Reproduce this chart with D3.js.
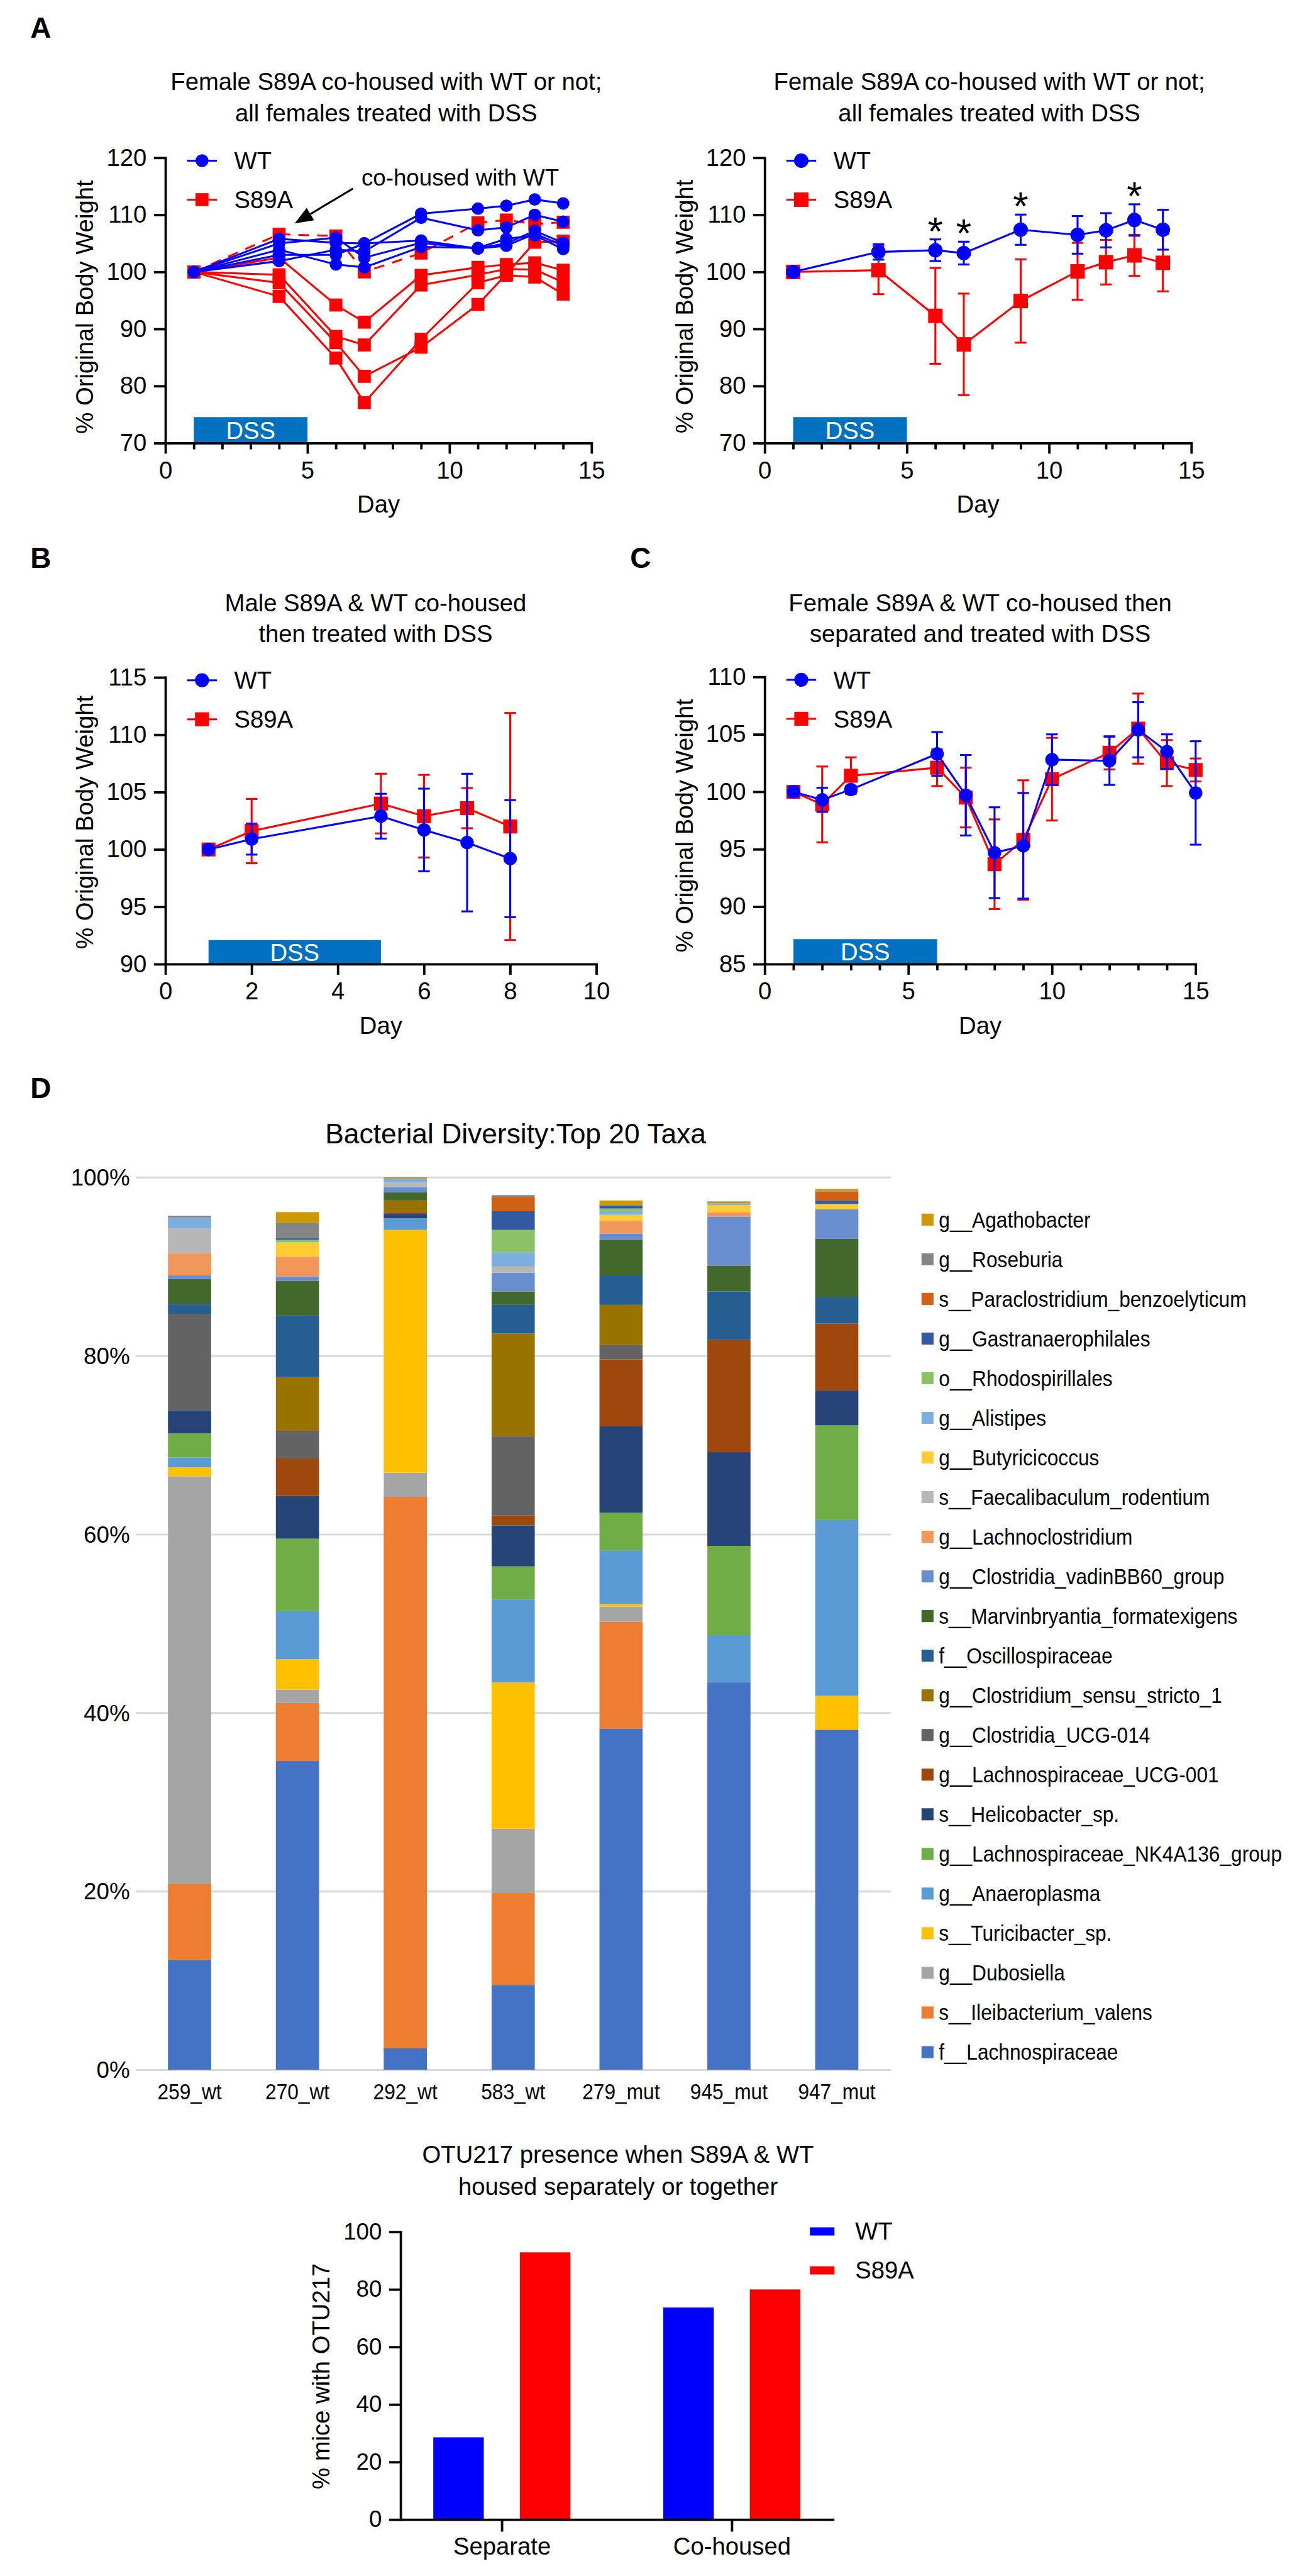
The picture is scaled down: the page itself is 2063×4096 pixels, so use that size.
<!DOCTYPE html>
<html>
<head>
<meta charset="utf-8">
<script src="https://cdn.jsdelivr.net/npm/d3@7"></script>
<style>
  body { margin: 0; background: #fff; }
</style>
</head>
<body>
<svg id="fig"></svg>
<script>
// ---------- data ----------
// panel A, individual mice (days of weighing)
const daysA = [1, 4, 6, 7, 9, 11, 12, 13, 14];
const wtMiceA = [
  [100, 103.0, 103.0, 105.0, 110.2, 111.1, 111.6, 112.7, 112.0],
  [100, 101.9, 103.9, 103.6, 109.5, 107.3, 107.8, 110.0, 108.8],
  [100, 105.8, 105.1, 105.0, 105.5, 104.1, 105.0, 107.2, 105.1],
  [100, 105.0, 106.0, 102.5, 105.1, 104.1, 104.6, 106.7, 104.6],
  [100, 103.9, 101.3, 100.8, 104.4, 104.2, 105.8, 106.4, 104.0]
];
const s89aMiceA = [
  [100, 102.5, 94.2, 91.2, 99.4, 100.8, 101.3, 101.6, 100.3],
  [100, 99.5, 88.7, 87.2, 97.7, 99.5, 100.5, 100.4, 98.2],
  [100, 98.1, 87.6, 81.7, 86.8, 94.3, 99.6, 105.2, 105.4],
  [100, 95.7, 84.9, 77.1, 88.2, 98.1, 99.4, 99.1, 96.1]
];
const s89aCoHousedA = [100, 106.6, 106.3, 100.0, 103.3, 108.6, 109.1, 108.4, 108.7];

// panel A, mean +/- SD
const wtMeanA = [100, 103.5, 103.8, 103.3, 107.4, 106.5, 107.3, 109.1, 107.4];
const wtErrA = [0.4, 1.35, 1.9, 2.0, 2.65, 3.3, 3.0, 2.75, 3.5];
const s89aMeanA = [100, 100.3, 92.3, 87.3, 94.9, 100.1, 101.7, 102.9, 101.6];
const s89aErrA = [0.4, 4.2, 8.4, 8.9, 7.3, 5.0, 3.9, 3.6, 5.0];
const starDaysA = [6, 7, 9, 13];

// panel B
const daysB = [1, 2, 5, 6, 7, 8];
const wtMeanB = [100, 100.9, 102.9, 101.7, 100.6, 99.2];
const wtErrB = [0.3, 1.35, 1.95, 3.6, 6.0, 5.1];
const s89aMeanB = [100, 101.6, 104.0, 102.9, 103.6, 102.0];
const s89aErrB = [0.3, 2.8, 2.6, 3.6, 1.75, 9.9];

// panel C
const daysC = [1, 2, 3, 6, 7, 8, 9, 10, 12, 13, 14, 15];
const wtMeanC = [100, 99.3, 100.2, 103.3, 99.7, 94.7, 95.3, 102.8, 102.7, 105.4, 103.5, 99.9];
const wtErrC = [0.4, 1.05, 0.3, 1.9, 3.5, 3.95, 4.6, 2.2, 2.1, 2.4, 1.5, 4.5];
const s89aMeanC = [100, 98.9, 101.4, 102.1, 99.5, 93.7, 95.8, 101.1, 103.4, 105.5, 102.5, 101.9];
const s89aErrC = [0.4, 3.3, 1.6, 1.6, 2.6, 3.9, 5.2, 3.6, 1.45, 3.05, 2.0, 1.0];

// panel D, stacked relative abundance (%), stack order bottom -> top
const samples = ["259_wt", "270_wt", "292_wt", "583_wt", "279_mut", "945_mut", "947_mut"];
const taxa = [
  "f__Lachnospiraceae", "s__Ileibacterium_valens", "g__Dubosiella", "s__Turicibacter_sp.",
  "g__Anaeroplasma", "g__Lachnospiraceae_NK4A136_group", "s__Helicobacter_sp.",
  "g__Lachnospiraceae_UCG-001", "g__Clostridia_UCG-014", "g__Clostridium_sensu_stricto_1",
  "f__Oscillospiraceae", "s__Marvinbryantia_formatexigens", "g__Clostridia_vadinBB60_group",
  "g__Lachnoclostridium", "s__Faecalibaculum_rodentium", "g__Butyricicoccus", "g__Alistipes",
  "o__Rhodospirillales", "g__Gastranaerophilales", "s__Paraclostridium_benzoelyticum",
  "g__Roseburia", "g__Agathobacter"
];
const taxaColors = [
  "#4472C4", "#ED7D31", "#A5A5A5", "#FFC000", "#5B9BD5", "#70AD47", "#264478", "#9E480E",
  "#636363", "#997300", "#255E91", "#43682B", "#698ED0", "#F1975A", "#B7B7B7", "#FFCD33",
  "#7CAFDD", "#8CC168", "#335AA1", "#D26012", "#848484", "#CC9A00"
];
const abundance = [
  [12.3, 34.6, 2.4, 9.5, 38.2, 43.4, 38.1],
  [8.5, 6.5, 61.8, 10.3, 12.0, 0, 0],
  [45.7, 1.5, 2.7, 7.2, 1.7, 0, 0],
  [1.0, 3.4, 27.2, 16.4, 0.3, 0, 3.8],
  [1.1, 5.4, 1.3, 9.3, 6.0, 5.3, 19.7],
  [2.7, 8.1, 0, 3.7, 4.2, 10.0, 10.6],
  [2.6, 4.8, 0.5, 4.6, 9.7, 10.5, 3.9],
  [0, 4.2, 0.2, 1.1, 7.5, 12.6, 7.5],
  [10.8, 3.1, 0, 8.9, 1.6, 0, 0],
  [0, 6.0, 1.3, 11.5, 4.5, 0, 0],
  [1.1, 6.9, 0, 3.2, 3.3, 5.4, 3.0],
  [2.8, 3.9, 0.9, 1.5, 4.0, 2.9, 6.5],
  [0.4, 0.5, 0.6, 2.1, 0.7, 5.5, 3.3],
  [2.5, 2.2, 0, 0, 1.4, 0.5, 0],
  [2.8, 0, 0.5, 0.7, 0, 0, 0],
  [0, 1.6, 0, 0, 0.7, 0.8, 0.6],
  [1.2, 0, 0.4, 1.6, 0.4, 0.2, 0],
  [0, 0.3, 0, 2.5, 0.3, 0, 0],
  [0, 0.2, 0, 2.1, 0.3, 0, 0.4],
  [0, 0, 0, 1.6, 0, 0, 1.0],
  [0.2, 1.7, 0.1, 0.2, 0.1, 0, 0.1],
  [0, 1.2, 0.1, 0, 0.5, 0.2, 0.2]
];
const pctTicks = [0, 20, 40, 60, 80, 100];

// OTU217 bar chart
const otuGroups = ["Separate", "Co-housed"];
const otuGenotypes = ["WT", "S89A"];
const otuWT = [28.6, 73.7];
const otuS89A = [92.9, 80.0];

// ---------- setup ----------
const W = 2063, H = 4096, K = 0.765;
const FONT = '"Liberation Sans", Arial, Helvetica, sans-serif';
const BLUE = "#0000FF", RED = "#FF0000", DSS = "#0070C0";

const svg = d3.select("#fig").attr("width", W).attr("height", H)
  .attr("font-family", FONT);
svg.append("rect").attr("width", W).attr("height", H).attr("fill", "#fff");
const root = svg.append("g").attr("transform", `scale(${K})`);

function styleAxis(sel, fs) {
  sel.attr("font-size", fs).attr("font-family", FONT);
  sel.select(".domain").attr("stroke", "#000").attr("stroke-width", 5).attr("stroke-linecap", "square");
  sel.selectAll(".tick line").attr("stroke", "#000").attr("stroke-width", 5);
  sel.selectAll(".tick text").attr("fill", "#000");
}

// condense text horizontally around its anchor (the Excel part of the figure is narrow)
function squeeze(sel, k) {
  sel.each(function() {
    const x = +d3.select(this).attr("x") || 0;
    d3.select(this).attr("transform", `translate(${x * (1 - k)},0) scale(${k},1)`);
  });
}

function panelLetter(t, x, y) {
  root.append("text").attr("x", x).attr("y", y).attr("font-size", 60)
    .attr("font-weight", "bold").text(t);
}

// ---------- XY panels ----------
function drawPanel(p) {
  const g = root.append("g");
  const x = d3.scaleLinear().domain(p.xDomain).range([p.left, p.right]);
  const y = d3.scaleLinear().domain(p.yDomain).range([p.bottom, p.top]);

  g.selectAll("text.title").data(p.title).join("text")
    .attr("x", p.titleX).attr("y", (d, i) => p.titleY + i * 65)
    .attr("text-anchor", "middle").attr("font-size", 50).text(d => d);

  // DSS treatment bar
  g.append("rect").attr("x", x(p.dss[0])).attr("width", x(p.dss[1]) - x(p.dss[0]))
    .attr("y", p.dssTop).attr("height", p.bottom - p.dssTop).attr("fill", DSS);
  g.append("text").attr("x", (x(p.dss[0]) + x(p.dss[1])) / 2)
    .attr("y", p.bottom - (p.bottom - p.dssTop) / 2 + 18)
    .attr("text-anchor", "middle").attr("font-size", 50).attr("fill", "#fff").text("DSS");

  if (p.minorTicks) {
    g.append("g").attr("transform", `translate(0,${p.bottom})`)
      .call(d3.axisBottom(x).tickValues(p.minorTicks).tickSize(13).tickFormat(""))
      .call(styleAxis, 50)
      .call(s => s.select(".domain").remove());
  }
  g.append("g").attr("transform", `translate(0,${p.bottom})`)
    .call(d3.axisBottom(x).tickValues(p.xTicks).tickSize(22).tickSizeOuter(0).tickPadding(16))
    .call(styleAxis, 50);
  g.append("g").attr("transform", `translate(${p.left},0)`)
    .call(d3.axisLeft(y).tickValues(p.yTicks).tickSize(24).tickSizeOuter(0).tickPadding(15))
    .call(styleAxis, 50);

  g.append("text").attr("x", (p.left + p.right) / 2).attr("y", p.bottom + 145)
    .attr("text-anchor", "middle").attr("font-size", 50).text("Day");
  g.append("text").attr("transform", `translate(${p.yLabelX},${p.yLabelY}) rotate(-90)`)
    .attr("text-anchor", "middle").attr("font-size", 50).text("% Original Body Weight");

  return { g, x, y, p };
}

function markers(ctx, days, vals, color, shape, size) {
  const pts = vals.map((v, i) => ({ x: ctx.x(days[i]), y: ctx.y(v) }));
  const m = ctx.g.append("g").attr("fill", color);
  if (shape === "circle") {
    m.selectAll("circle").data(pts).join("circle")
      .attr("cx", d => d.x).attr("cy", d => d.y).attr("r", size / 2);
  } else {
    m.selectAll("rect").data(pts).join("rect")
      .attr("x", d => d.x - size / 2).attr("y", d => d.y - size / 2)
      .attr("width", size).attr("height", size);
  }
}

function drawLine(ctx, days, vals, color, dashed) {
  const line = d3.line().x((v, i) => ctx.x(days[i])).y(v => ctx.y(v));
  ctx.g.append("path").datum(vals).attr("d", line).attr("fill", "none")
    .attr("stroke", color).attr("stroke-width", 4)
    .attr("stroke-dasharray", dashed ? "22,17" : null);
}

function drawMean(ctx, days, mean, err, color, shape, size) {
  const rows = days.map((d, i) => ({ d, m: mean[i], e: err[i] }));
  const eb = ctx.g.append("g").attr("stroke", color).attr("stroke-width", 4);
  eb.selectAll("line.v").data(rows).join("line").attr("class", "v")
    .attr("x1", r => ctx.x(r.d)).attr("x2", r => ctx.x(r.d))
    .attr("y1", r => ctx.y(r.m - r.e)).attr("y2", r => ctx.y(r.m + r.e));
  ["lo", "hi"].forEach(k => {
    eb.selectAll("line." + k).data(rows).join("line").attr("class", k)
      .attr("x1", r => ctx.x(r.d) - 12).attr("x2", r => ctx.x(r.d) + 12)
      .attr("y1", r => ctx.y(k === "lo" ? r.m - r.e : r.m + r.e))
      .attr("y2", r => ctx.y(k === "lo" ? r.m - r.e : r.m + r.e));
  });
  drawLine(ctx, days, mean, color, false);
  markers(ctx, days, mean, color, shape, size);
}

function legend(ctx, size) {
  const p = ctx.p;
  const items = [
    { name: "WT", color: BLUE, shape: "circle", y: p.top + 6 },
    { name: "S89A", color: RED, shape: "square", y: p.top + 87 }
  ];
  items.forEach(it => {
    ctx.g.append("line").attr("x1", p.left + 45).attr("x2", p.left + 107)
      .attr("y1", it.y).attr("y2", it.y).attr("stroke", it.color).attr("stroke-width", 4);
    const cx = p.left + 76;
    if (it.shape === "circle") {
      ctx.g.append("circle").attr("cx", cx).attr("cy", it.y).attr("r", size / 2).attr("fill", it.color);
    } else {
      ctx.g.append("rect").attr("x", cx - size / 2).attr("y", it.y - size / 2)
        .attr("width", size).attr("height", size).attr("fill", it.color);
    }
    ctx.g.append("text").attr("x", p.left + 143).attr("y", it.y + 18)
      .attr("font-size", 50).text(it.name);
  });
}

const minor15 = d3.range(1, 15).filter(d => d % 5 !== 0);

// A left: individual mice
panelLetter("A", 63, 79);
const aL = drawPanel({
  left: 344, right: 1230, top: 328, bottom: 921,
  xDomain: [0, 15], yDomain: [70, 120], xTicks: [0, 5, 10, 15], minorTicks: minor15,
  yTicks: d3.range(70, 121, 10), dss: [1, 5], dssTop: 867,
  title: ["Female S89A co-housed with WT or not;", "all females treated with DSS"],
  titleX: 803, titleY: 187, yLabelX: 194, yLabelY: 638
});
s89aMiceA.forEach(m => drawLine(aL, daysA, m, RED, false));
drawLine(aL, daysA, s89aCoHousedA, RED, true);
s89aMiceA.forEach(m => markers(aL, daysA, m, RED, "square", 27));
markers(aL, daysA, s89aCoHousedA, RED, "square", 27);
wtMiceA.forEach(m => drawLine(aL, daysA, m, BLUE, false));
wtMiceA.forEach(m => markers(aL, daysA, m, BLUE, "circle", 26));
legend(aL, 27);
// annotation
aL.g.append("text").attr("x", aL.x(6.9)).attr("y", aL.y(115.1)).attr("font-size", 48)
  .text("co-housed with WT");
{
  const x1 = aL.x(6.6), y1 = aL.y(114.6), x2 = aL.x(4.55), y2 = aL.y(108.5);
  const ang = Math.atan2(y2 - y1, x2 - x1), L = 38, Wd = 15;
  const bx = x2 - L * Math.cos(ang), by = y2 - L * Math.sin(ang);
  aL.g.append("line").attr("x1", x1).attr("y1", y1).attr("x2", bx).attr("y2", by)
    .attr("stroke", "#000").attr("stroke-width", 4);
  aL.g.append("path").attr("fill", "#000").attr("d",
    `M${x2},${y2}L${bx + Wd * Math.sin(ang)},${by - Wd * Math.cos(ang)}` +
    `L${bx - Wd * Math.sin(ang)},${by + Wd * Math.cos(ang)}Z`);
}

// A right: mean +/- SD
const aR = drawPanel({
  left: 1590, right: 2477, top: 328, bottom: 921,
  xDomain: [0, 15], yDomain: [70, 120], xTicks: [0, 5, 10, 15], minorTicks: minor15,
  yTicks: d3.range(70, 121, 10), dss: [1, 5], dssTop: 867,
  title: ["Female S89A co-housed with WT or not;", "all females treated with DSS"],
  titleX: 2057, titleY: 187, yLabelX: 1440, yLabelY: 637
});
drawMean(aR, daysA, s89aMeanA, s89aErrA, RED, "square", 30);
drawMean(aR, daysA, wtMeanA, wtErrA, BLUE, "circle", 30);
legend(aR, 30);
aR.g.selectAll("text.star").data(starDaysA).join("text").attr("class", "star")
  .attr("x", d => aR.x(d)).attr("text-anchor", "middle").attr("font-size", 82)
  .attr("y", d => {
    const i = daysA.indexOf(d);
    return aR.y(wtMeanA[i] + wtErrA[i] + 3) + 46;
  })
  .text("*");

// B
panelLetter("B", 63, 1180);
const pB = drawPanel({
  left: 344, right: 1240, top: 1408, bottom: 2004,
  xDomain: [0, 10], yDomain: [90, 115], xTicks: d3.range(0, 11, 2),
  yTicks: d3.range(90, 116, 5), dss: [1, 5], dssTop: 1954,
  title: ["Male S89A & WT co-housed", "then treated with DSS"],
  titleX: 781, titleY: 1270, yLabelX: 194, yLabelY: 1709
});
drawMean(pB, daysB, s89aMeanB, s89aErrB, RED, "square", 29);
drawMean(pB, daysB, wtMeanB, wtErrB, BLUE, "circle", 28);
legend(pB, 29);

// C
panelLetter("C", 1310, 1180);
const pC = drawPanel({
  left: 1590, right: 2486, top: 1407, bottom: 2004,
  xDomain: [0, 15], yDomain: [85, 110], xTicks: [0, 5, 10, 15], minorTicks: minor15,
  yTicks: d3.range(85, 111, 5), dss: [1, 6], dssTop: 1952,
  title: ["Female S89A & WT co-housed then", "separated and treated with DSS"],
  titleX: 2038, titleY: 1270, yLabelX: 1440, yLabelY: 1716
});
drawMean(pC, daysC, s89aMeanC, s89aErrC, RED, "square", 29);
drawMean(pC, daysC, wtMeanC, wtErrC, BLUE, "circle", 28);
legend(pC, 29);

// ---------- D: stacked bars ----------
panelLetter("D", 63, 2282);
const gD = root.append("g");
const xD = d3.scaleBand().domain(samples).range([282, 1852]).paddingInner(0.6).paddingOuter(0.3);
const yD = d3.scaleLinear().domain([0, 100]).range([4302, 2447]);

gD.append("text").attr("x", 1072).attr("y", 2377).attr("text-anchor", "middle")
  .attr("font-size", 58).text("Bacterial Diversity:Top 20 Taxa");

gD.append("g").attr("transform", "translate(282,0)")
  .call(d3.axisLeft(yD).tickValues(pctTicks).tickSize(-(1852 - 282)).tickPadding(12)
    .tickFormat(d => d + "%"))
  .call(s => {
    s.attr("font-size", 48).attr("font-family", FONT);
    s.select(".domain").remove();
    s.selectAll(".tick line").attr("stroke", "#D9D9D9").attr("stroke-width", 4);
    s.selectAll(".tick text").attr("fill", "#000").attr("dy", "0.35em");
  });

const rowsD = samples.map((s, j) => {
  const r = { sample: s };
  taxa.forEach((t, i) => { r[t] = abundance[i][j]; });
  return r;
});
const stackD = d3.stack().keys(taxa)(rowsD);
gD.append("g").selectAll("g").data(stackD).join("g")
  .attr("fill", (d, i) => taxaColors[i])
  .selectAll("rect").data(d => d).join("rect")
  .attr("x", d => xD(d.data.sample)).attr("width", xD.bandwidth())
  .attr("y", d => yD(d[1])).attr("height", d => yD(d[0]) - yD(d[1]));

gD.append("g").selectAll("text").data(samples).join("text")
  .attr("x", d => xD(d) + xD.bandwidth() / 2).attr("y", 4363)
  .attr("text-anchor", "middle").attr("font-size", 46).text(d => d)
  .call(squeeze, 0.9);

// legend (top entry = top of stack)
const legD = gD.append("g");
const legOrder = taxa.map((t, i) => ({ t, c: taxaColors[i] })).reverse();
const legRow = legD.selectAll("g").data(legOrder).join("g")
  .attr("transform", (d, i) => `translate(1916,${2535 + i * 82.4})`);
legRow.append("rect").attr("x", 0).attr("y", -12.5).attr("width", 25).attr("height", 25)
  .attr("fill", d => d.c);
legRow.append("text").attr("x", 36).attr("y", 16).attr("font-size", 46).text(d => d.t)
  .call(squeeze, 0.9);

// ---------- OTU217 ----------
const gO = root.append("g");
const xO = d3.scalePoint().domain(otuGroups).range([833, 1732]).padding(0.44);
const xOin = d3.scaleBand().domain(otuGenotypes).range([-142.5, 142.5]).paddingInner(0.4167);
const yO = d3.scaleLinear().domain([0, 100]).range([5237, 4639]);
const otuColor = { WT: BLUE, S89A: RED };

gO.selectAll("text.t").data(["OTU217 presence when S89A & WT", "housed separately or together"])
  .join("text").attr("x", 1285).attr("y", (d, i) => 4496 + i * 66)
  .attr("text-anchor", "middle").attr("font-size", 50).text(d => d);

const otuRows = [];
otuGroups.forEach((g, i) => {
  otuRows.push({ g, k: "WT", v: otuWT[i] });
  otuRows.push({ g, k: "S89A", v: otuS89A[i] });
});
gO.append("g").selectAll("rect").data(otuRows).join("rect")
  .attr("x", d => xO(d.g) + xOin(d.k)).attr("width", xOin.bandwidth())
  .attr("y", d => yO(d.v)).attr("height", d => yO(0) - yO(d.v))
  .attr("fill", d => otuColor[d.k]);

gO.append("g").attr("transform", "translate(0,5237)")
  .call(d3.axisBottom(xO).tickSize(25).tickSizeOuter(0).tickPadding(12))
  .call(styleAxis, 50);
gO.append("g").attr("transform", "translate(833,0)")
  .call(d3.axisLeft(yO).tickValues(pctTicks).tickSize(24).tickSizeOuter(0).tickPadding(15))
  .call(styleAxis, 48);
gO.append("text").attr("transform", "translate(685,4939) rotate(-90)")
  .attr("text-anchor", "middle").attr("font-size", 50).text("% mice with OTU217");

const legO = gO.append("g").selectAll("g").data(otuGenotypes).join("g")
  .attr("transform", (d, i) => `translate(1684,${4638 + i * 81})`);
legO.append("rect").attr("x", 0).attr("y", -8.5).attr("width", 51).attr("height", 17)
  .attr("fill", d => otuColor[d]);
legO.append("text").attr("x", 94).attr("y", 17).attr("font-size", 50).text(d => d);
</script>
</body>
</html>
